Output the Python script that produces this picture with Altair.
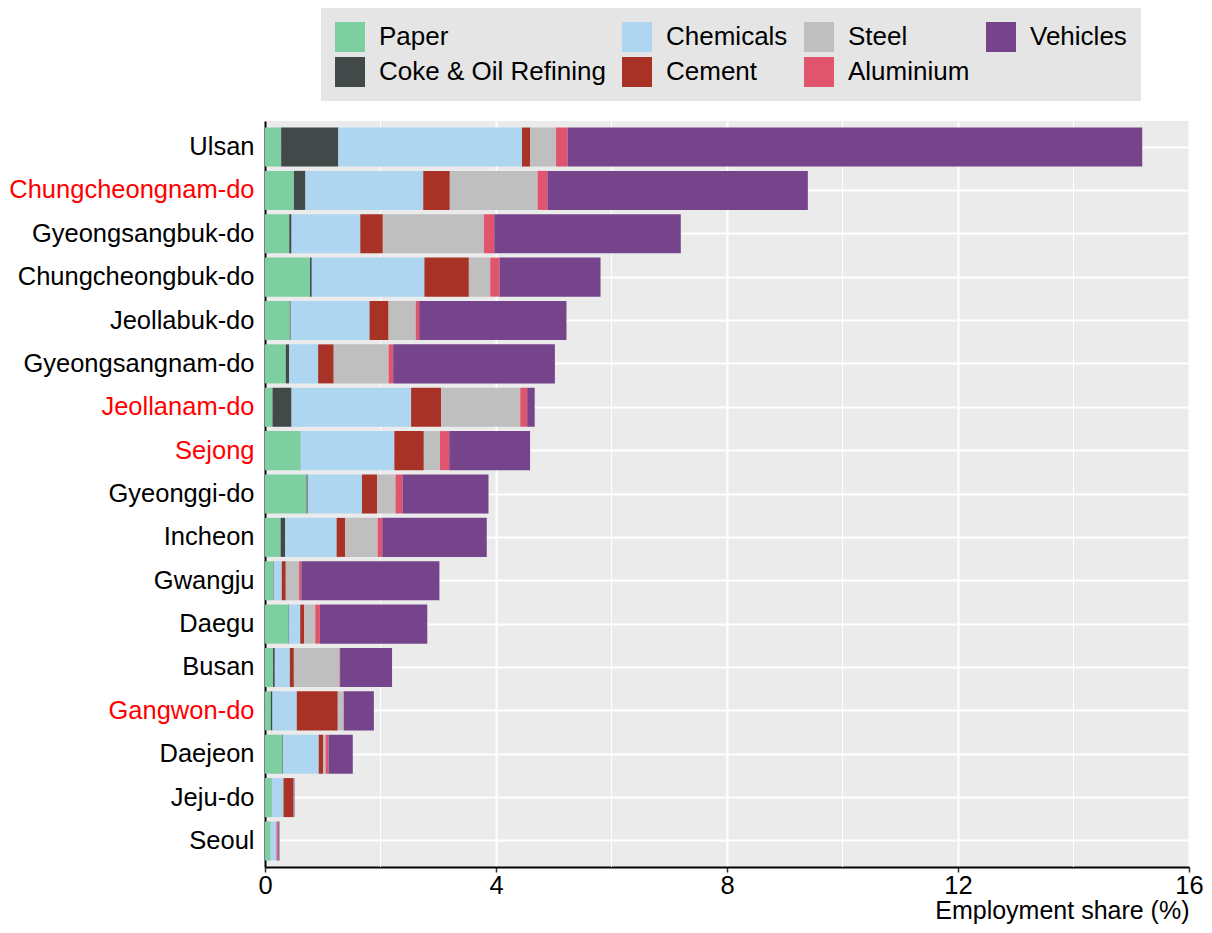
import altair as alt
import pandas as pd

regions = ["Ulsan", "Chungcheongnam-do", "Gyeongsangbuk-do", "Chungcheongbuk-do",
           "Jeollabuk-do", "Gyeongsangnam-do", "Jeollanam-do", "Sejong", "Gyeonggi-do",
           "Incheon", "Gwangju", "Daegu", "Busan", "Gangwon-do", "Daejeon", "Jeju-do", "Seoul"]
red_regions = ["Chungcheongnam-do", "Jeollanam-do", "Sejong", "Gangwon-do"]

industries = ["Paper", "Coke & Oil Refining", "Chemicals", "Cement", "Steel", "Aluminium", "Vehicles"]
paper     = [0.28, 0.50, 0.42, 0.78, 0.43, 0.36, 0.13, 0.62, 0.72, 0.27, 0.14, 0.41, 0.14, 0.10, 0.30, 0.12, 0.10]
coke      = [0.99, 0.20, 0.04, 0.03, 0.015, 0.06, 0.33, 0.00, 0.02, 0.08, 0.01, 0.01, 0.03, 0.03, 0.01, 0.00, 0.00]
chemicals = [3.18, 2.04, 1.19, 1.95, 1.365, 0.50, 2.07, 1.62, 0.94, 0.89, 0.14, 0.19, 0.26, 0.42, 0.62, 0.20, 0.09]
cement    = [0.14, 0.46, 0.39, 0.77, 0.33, 0.27, 0.52, 0.51, 0.26, 0.15, 0.07, 0.07, 0.07, 0.71, 0.08, 0.17, 0.01]
steel     = [0.45, 1.52, 1.75, 0.37, 0.47, 0.95, 1.37, 0.28, 0.32, 0.56, 0.23, 0.19, 0.79, 0.10, 0.04, 0.00, 0.01]
aluminium = [0.20, 0.17, 0.18, 0.16, 0.06, 0.08, 0.12, 0.16, 0.12, 0.08, 0.04, 0.08, 0.01, 0.005, 0.05, 0.005, 0.02]
vehicles  = [9.95, 4.51, 3.23, 1.75, 2.55, 2.80, 0.13, 1.40, 1.49, 1.81, 2.39, 1.86, 0.90, 0.52, 0.42, 0.015, 0.02]

series = [paper, coke, chemicals, cement, steel, aluminium, vehicles]
colors = ["#7DCEA0", "#414949", "#AED6F1", "#A93226", "#BFBFBF", "#E0546D", "#76448A"]

rows = []
for i, ind in enumerate(industries):
    for r, v in zip(regions, series[i]):
        rows.append({"region": r, "industry": ind, "value": v, "idx": i})
df = pd.DataFrame(rows)

minor = pd.DataFrame({"x": [2, 6, 10, 14]})

FONT = "Liberation Sans"
xscale = alt.Scale(domain=[0, 16], nice=False, zero=True)

grid_minor = alt.Chart(minor).mark_rule(color="white", strokeWidth=1).encode(
    x=alt.X("x:Q", scale=xscale)
)

bars = alt.Chart(df).mark_bar(opacity=1).encode(
    x=alt.X("value:Q", stack="zero", scale=xscale,
            axis=alt.Axis(values=[0, 4, 8, 12, 16], format="d", title="Employment share (%)",
                          titleAnchor="end", titleAlign="right", titleFontWeight="normal",
                          titleFontSize=25, titleFont=FONT, titleColor="black", titlePadding=0,
                          labelFontSize=25.5, labelFont=FONT, labelColor="black", labelPadding=1,
                          grid=True, gridColor="white", gridWidth=2,
                          domainColor="black", domainWidth=2, tickColor="#333333", tickSize=5,
                          tickWidth=1.5, labelFlush=False)),
    y=alt.Y("region:N", sort=regions,
            scale=alt.Scale(paddingInner=0.1, paddingOuter=0.15),
            axis=alt.Axis(title=None, labelFontSize=25.5, labelFont=FONT, labelLimit=400,
                          labelColor={"condition": {"test": "indexof(" + str(red_regions) + ", datum.value) >= 0",
                                                    "value": "#FF0000"}, "value": "black"},
                          ticks=False, labelPadding=11, grid=True, gridColor="white", gridWidth=2,
                          bandPosition=0.5, domainColor="black", domainWidth=2)),
    color=alt.Color("industry:N",
                    scale=alt.Scale(domain=industries, range=colors),
                    legend=alt.Legend(title=None, orient="none", legendX=56, legendY=-113,
                                      columns=4, symbolType="square", symbolSize=900,
                                      symbolStrokeWidth=0, symbolOpacity=1,
                                      labelFontSize=26, labelFont=FONT, labelColor="black",
                                      labelOffset=14, rowPadding=5, columnPadding=16,
                                      padding=14, fillColor="#E5E5E5", labelLimit=400)),
    order=alt.Order("idx:Q", sort="ascending"),
)

chart = (grid_minor + bars).properties(
    width=924, height=746,
    padding={"left": 257, "top": 113, "right": 15, "bottom": 58},
    autosize=alt.AutoSizeParams(type="none"),
    background="white",
).configure_view(fill="#EBEBEB", stroke=None)

chart.save("out.html", embed_options={"renderer": "svg", "actions": False})
